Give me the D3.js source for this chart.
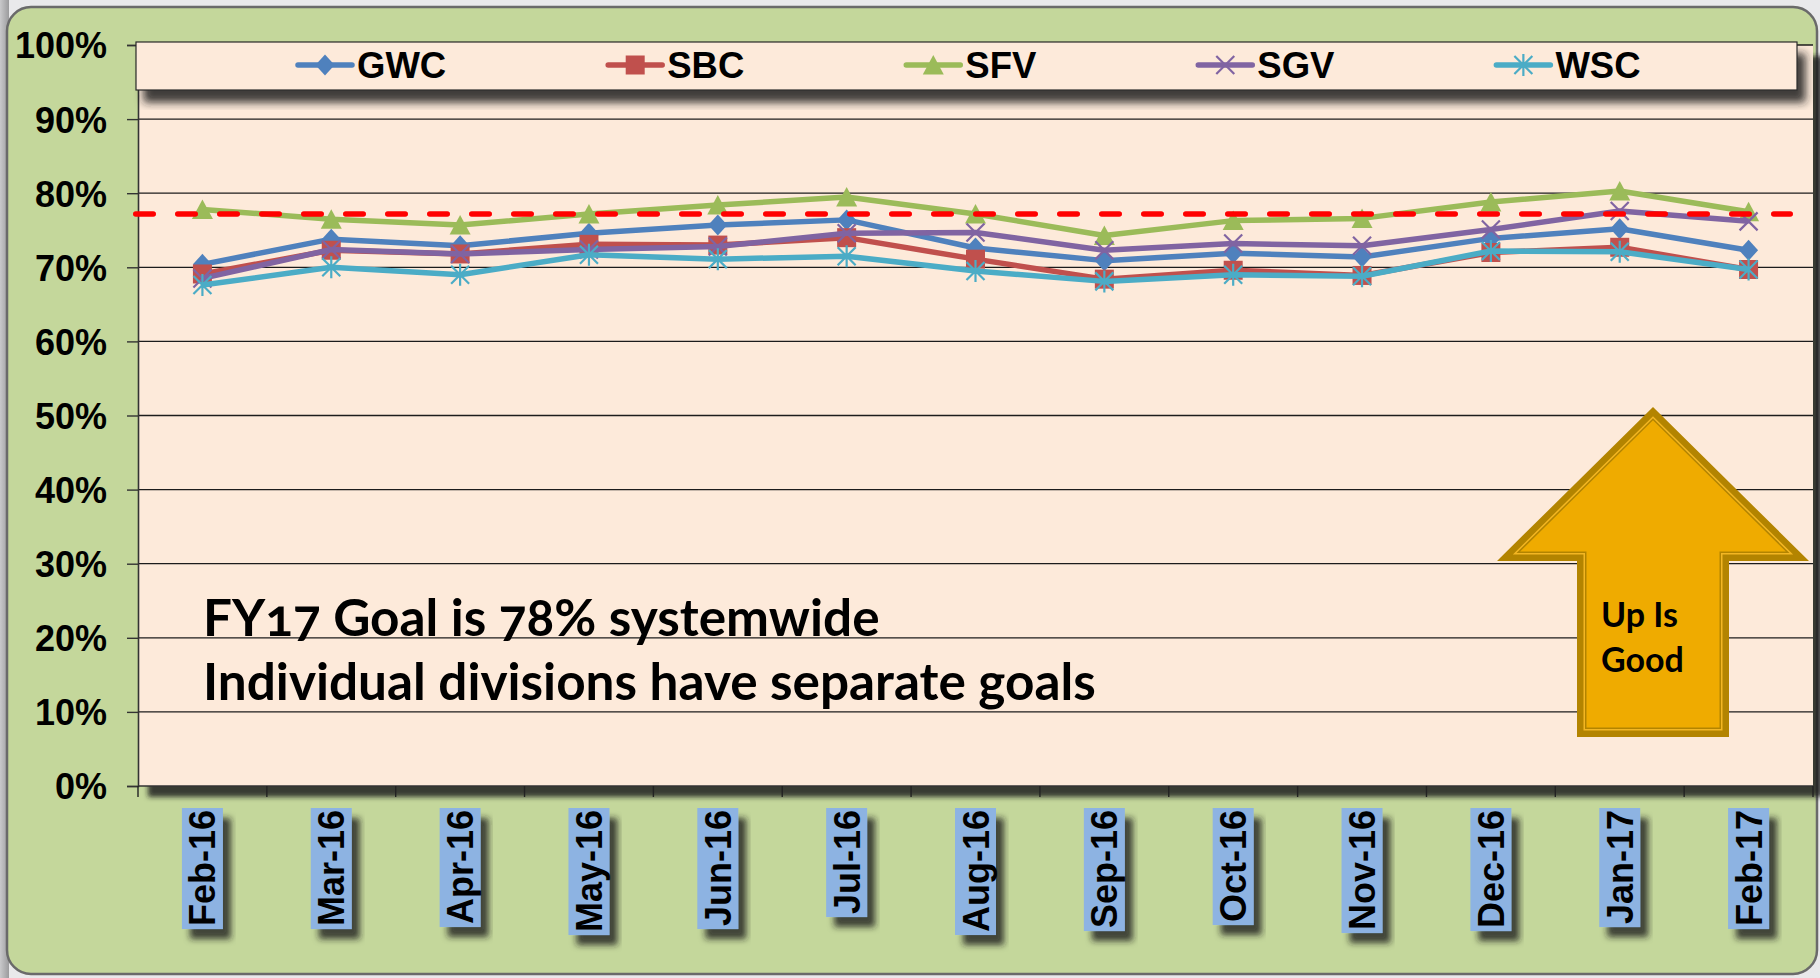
<!DOCTYPE html>
<html><head><meta charset="utf-8">
<script src="https://cdn.jsdelivr.net/npm/d3@7"></script>
<style>html,body{margin:0;padding:0;overflow:hidden;background:#e9e9eb;}svg{display:block;}</style>
</head><body>
<script>
// ---------- data ----------
const categories = ["Feb-16","Mar-16","Apr-16","May-16","Jun-16","Jul-16","Aug-16","Sep-16","Oct-16","Nov-16","Dec-16","Jan-17","Feb-17"];
const seriesNames = ["GWC","SBC","SFV","SGV","WSC"];
const gwc = [70.4, 73.8, 72.9, 74.6, 75.7, 76.4, 72.6, 70.9, 71.9, 71.4, 73.9, 75.2, 72.3];
const sbc = [69.1, 72.3, 71.8, 73.1, 73.0, 74.0, 71.1, 68.4, 69.6, 68.9, 72.0, 72.7, 69.7];
const sfv = [77.8, 76.5, 75.7, 77.2, 78.4, 79.5, 77.2, 74.3, 76.3, 76.6, 78.8, 80.3, 77.5];
const sgv = [68.5, 72.4, 71.8, 72.4, 72.8, 74.6, 74.7, 72.3, 73.2, 72.9, 75.1, 77.6, 76.2];
const wsc = [67.6, 70.0, 69.0, 71.7, 71.1, 71.5, 69.5, 68.1, 69.0, 68.8, 72.2, 72.1, 69.7];
const goalValue = 77.2;
const yTicks = [0,10,20,30,40,50,60,70,80,90,100];
const noteLines = ["FY17 Goal is 78% systemwide", "Individual divisions have separate goals"];
const arrowLines = ["Up Is", "Good"];

const seriesValues = [gwc, sbc, sfv, sgv, wsc];
const seriesColors = ["#4f81bd","#c0504d","#9bbb59","#8064a2","#4bacc6"];
const seriesMarkers = ["diamond","square","triangle","x","star"];

// ---------- layout ----------
const W = 1820, H = 978;
const plot = {left:138, right:1813, top:45, bottom:786};
const svg = d3.select("body").append("svg").attr("width", W).attr("height", H);
const defs = svg.append("defs");

function shadow(id, dx, dy, blur, op){
  const f = defs.append("filter").attr("id", id).attr("x","-20%").attr("y","-20%").attr("width","150%").attr("height","160%");
  f.append("feGaussianBlur").attr("in","SourceAlpha").attr("stdDeviation", blur);
  f.append("feOffset").attr("dx", dx).attr("dy", dy).attr("result","o");
  f.append("feFlood").attr("flood-color","#1e1e1e").attr("flood-opacity", op);
  f.append("feComposite").attr("in2","o").attr("operator","in");
  const m = f.append("feMerge"); m.append("feMergeNode"); m.append("feMergeNode").attr("in","SourceGraphic");
}
shadow("shPlot", 10, 11, 2.5, 0.85);
shadow("shLegend", 8, 12, 4, 0.85);
shadow("shLabel", 8, 10, 3, 0.8);

const lg = defs.append("linearGradient").attr("id","leftGrad").attr("x1","0").attr("x2","1");
lg.append("stop").attr("offset","0").attr("stop-color","#c9c9cb");
lg.append("stop").attr("offset","1").attr("stop-color","#9b9b9d");

// background
svg.append("rect").attr("x",0).attr("y",0).attr("width",W).attr("height",H).attr("fill","#e9e9eb");
svg.append("rect").attr("x",0).attr("y",0).attr("width",9).attr("height",H).attr("fill","url(#leftGrad)");
svg.append("rect").attr("x",7).attr("y",7).attr("width",1810).attr("height",967).attr("rx",24)
  .attr("fill","#c4d79b").attr("stroke","#6a6a6a").attr("stroke-width",2.5);

// scales
const x = d3.scaleBand().domain(categories).range([plot.left, plot.right]);
const y = d3.scaleLinear().domain([0,100]).range([plot.bottom, plot.top]);
const cx = c => x(c) + x.bandwidth()/2;

// plot area
svg.append("rect").attr("x",plot.left).attr("y",plot.top).attr("width",plot.right-plot.left).attr("height",plot.bottom-plot.top)
  .attr("fill","#fdeada").attr("filter","url(#shPlot)");

// gridlines
svg.append("g").selectAll("line").data(yTicks.filter(t=>t>0)).join("line")
  .attr("x1",plot.left).attr("x2",plot.right).attr("y1",d=>y(d)).attr("y2",d=>y(d))
  .attr("stroke","#1c1c1c").attr("stroke-width",1.3);

// y axis
const yAxis = d3.axisLeft(y).tickValues(yTicks).tickFormat(d=>d+"%").tickSize(11).tickPadding(20);
const gy = svg.append("g").attr("transform",`translate(${plot.left},0)`).call(yAxis);
gy.select(".domain").attr("stroke","#333").attr("stroke-width",1.6);
gy.selectAll(".tick line").attr("stroke","#333").attr("stroke-width",1.4);
gy.selectAll(".tick text").attr("font-family","'Liberation Sans', Arial, sans-serif").attr("font-weight","bold")
  .attr("font-size",36).attr("fill","#000").attr("dy","0.36em");

// x axis (ticks at band boundaries)
const bounds = categories.map(c=>x(c)).concat([plot.right]);
svg.append("line").attr("x1",plot.left).attr("x2",plot.right).attr("y1",plot.bottom).attr("y2",plot.bottom)
  .attr("stroke","#333").attr("stroke-width",1.6);
svg.append("g").selectAll("line").data(bounds).join("line")
  .attr("x1",d=>d).attr("x2",d=>d).attr("y1",plot.bottom).attr("y2",plot.bottom+11)
  .attr("stroke","#222").attr("stroke-width",1.4);

// x labels
const labG = svg.append("g");
categories.forEach(c=>{
  const g = labG.append("g").attr("transform",`translate(${cx(c)},808)`);
  const box = g.append("rect").attr("fill","#8db3e2").attr("filter","url(#shLabel)");
  const t = g.append("text").text(c).attr("transform","rotate(-90)")
    .attr("x",-2).attr("y",13).attr("text-anchor","end")
    .attr("font-family","'Liberation Sans', Arial, sans-serif").attr("font-weight","bold").attr("font-size",36).attr("fill","#000");
  const L = t.node().getComputedTextLength();
  box.attr("x",-20.5).attr("y",0).attr("width",41).attr("height",L+5);
});

// markers
function markerPath(type){
  switch(type){
    case "diamond": return "M0,-10.5L9.5,0L0,10.5L-9.5,0Z";
    case "square": return "M-9.5,-9.5H9.5V9.5H-9.5Z";
    case "triangle": return "M0,-10L10.5,9.5L-10.5,9.5Z";
    case "x": return "M-9,-9L9,9M-9,9L9,-9";
    case "star": return "M-9,-9L9,9M-9,9L9,-9M0,-11L0,11";
  }
}
function drawMarker(g, type, color){
  const p = g.append("path").attr("d", markerPath(type));
  if(type==="x"||type==="star") p.attr("fill","none").attr("stroke",color).attr("stroke-width",2.2);
  else p.attr("fill",color);
}

// series
const line = d3.line().x((d,i)=>cx(categories[i])).y(d=>y(d));
seriesNames.forEach((name,si)=>{
  const vals = seriesValues[si], col = seriesColors[si];
  const g = svg.append("g");
  g.append("path").datum(vals).attr("d",line).attr("fill","none").attr("stroke",col)
    .attr("stroke-width",5.5).attr("stroke-linejoin","round");
  vals.forEach((v,i)=>{
    const mg = g.append("g").attr("transform",`translate(${cx(categories[i])},${y(v)})`);
    drawMarker(mg, seriesMarkers[si], col);
  });
});

// goal line
svg.append("line").attr("x1",135.75).attr("x2",1790.25).attr("y1",y(goalValue)).attr("y2",y(goalValue))
  .attr("stroke","#ff0000").attr("stroke-width",5.5).attr("stroke-linecap","round").attr("stroke-dasharray","17.5,24.5");

// legend
const legG = svg.append("g");
legG.append("rect").attr("x",136).attr("y",42).attr("width",1661).attr("height",48)
  .attr("fill","#fdeada").attr("stroke","#2a2a2a").attr("stroke-width",1.2).attr("filter","url(#shLegend)");
let lx = 298;
seriesNames.forEach((name,si)=>{
  const g = legG.append("g").attr("transform",`translate(${lx},65)`);
  g.append("line").attr("x1",0).attr("x2",54).attr("y1",0).attr("y2",0).attr("stroke",seriesColors[si]).attr("stroke-width",5.5).attr("stroke-linecap","round");
  const mg = g.append("g").attr("transform","translate(27,0)");
  drawMarker(mg, seriesMarkers[si], seriesColors[si]);
  const t = g.append("text").text(name).attr("x",59).attr("y",0).attr("dy","0.36em")
    .attr("font-family","'Liberation Sans', Arial, sans-serif").attr("font-weight","bold").attr("font-size",36.5).attr("fill","#000");
  lx += 59 + t.node().getComputedTextLength() + 162;
});

// note text
const noteG = svg.append("g").attr("font-family","Lato, 'Open Sans', sans-serif").attr("font-weight","bold").attr("fill","#000")
  .style("font-variant-numeric","oldstyle-nums");
const n1 = noteG.append("text").text(noteLines[0]).attr("x",203).attr("y",636).attr("font-size",40);
const n2 = noteG.append("text").text(noteLines[1]).attr("x",203).attr("y",700).attr("font-size",40);
const fs1 = 40 * 670 / n1.node().getComputedTextLength();
const fs2 = 40 * 902 / n2.node().getComputedTextLength();
const fs = (fs1 + fs2) / 2;
n1.attr("font-size",fs); n2.attr("font-size",fs);

// arrow
function offsetPoly(pts, d){
  const n = pts.length, lines = [];
  for(let i=0;i<n;i++){
    const a = pts[i], b = pts[(i+1)%n];
    const dx=b[0]-a[0], dy=b[1]-a[1], len=Math.hypot(dx,dy);
    const nx=-dy/len, ny=dx/len;
    lines.push({p:[a[0]+nx*d, a[1]+ny*d], v:[dx,dy]});
  }
  const out=[];
  for(let i=0;i<n;i++){
    const L1 = lines[(i-1+n)%n], L2 = lines[i];
    const det = L1.v[0]*(-L2.v[1]) - L1.v[1]*(-L2.v[0]);
    const rx = L2.p[0]-L1.p[0], ry = L2.p[1]-L1.p[1];
    const t = (rx*(-L2.v[1]) - ry*(-L2.v[0]))/det;
    out.push([L1.p[0]+L1.v[0]*t, L1.p[1]+L1.v[1]*t]);
  }
  return out;
}
const ac = 1653, aTip = 407, aHead = 561, aHW = 156, aSW = 76, aBot = 737;
const arrowPts = [[ac,aTip],[ac+aHW,aHead],[ac+aSW,aHead],[ac+aSW,aBot],[ac-aSW,aBot],[ac-aSW,aHead],[ac-aHW,aHead]];
const poly = p => "M" + p.map(q=>q.join(",")).join("L") + "Z";
const arG = svg.append("g");
arG.append("path").attr("d",poly(arrowPts)).attr("fill","#b38400");
arG.append("path").attr("d",poly(offsetPoly(arrowPts,6.5))).attr("fill","#f3b623");
arG.append("path").attr("d",poly(offsetPoly(arrowPts,8))).attr("fill","#b38400");
arG.append("path").attr("d",poly(offsetPoly(arrowPts,9.5))).attr("fill","#efab00");
arG.selectAll("text.al").data(arrowLines).join("text").attr("class","al")
  .text(d=>d).attr("x",1601).attr("y",(d,i)=>627+i*45)
  .attr("font-family","Lato, 'Open Sans', sans-serif").attr("font-weight","bold").attr("font-size",34).attr("fill","#000");
</script>
</body></html>
